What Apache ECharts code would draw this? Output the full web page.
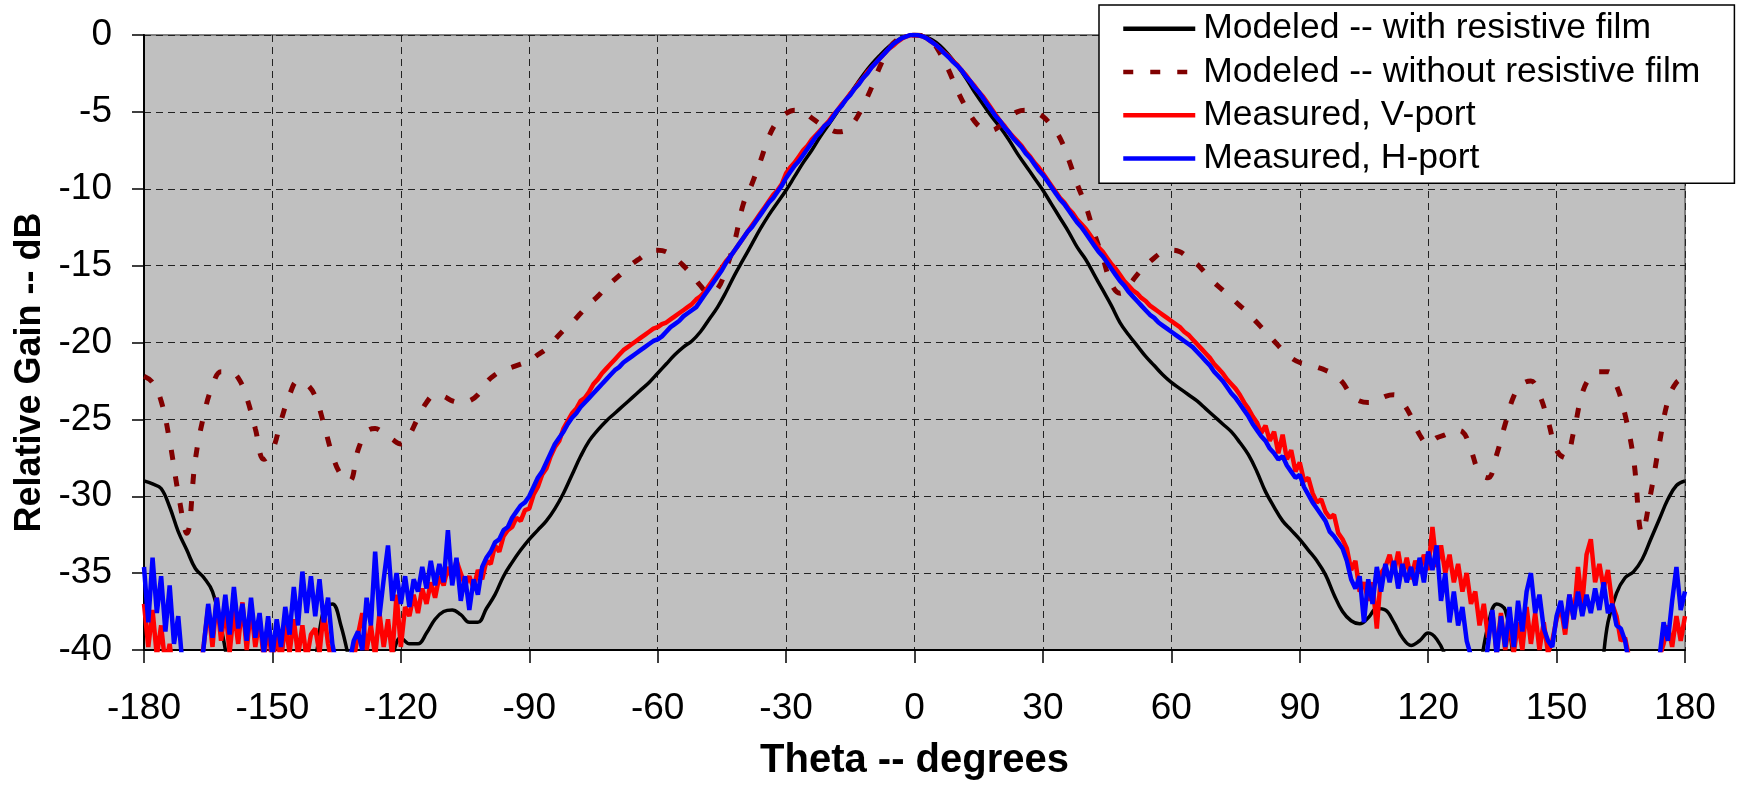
<!DOCTYPE html>
<html>
<head>
<meta charset="utf-8">
<script src="https://cdn.jsdelivr.net/npm/echarts@6/dist/echarts.min.js"></script>
<style>
html,body{margin:0;padding:0;background:#fff;}
#chart{width:1738px;height:786px;}
</style>
</head>
<body>
<div id="chart"></div>
<script>
// ---------- DATA ----------
const seriesNames = ['Modeled -- with resistive film', 'Modeled -- without resistive film', 'Measured, V-port', 'Measured, H-port'];
const xTickValues = [-180, -150, -120, -90, -60, -30, 0, 30, 60, 90, 120, 150, 180];

// Modeled curves sampled every 2 degrees from -180 to 180
const modelStep = 2;
const modeledWithFilm = [
  -29.0, -29.2, -29.5, -30.7, -32.3, -33.5, -34.7, -35.3, -36.2, -38.5,   // -180..-162
  -41.5, -44, -46, -47, -47, -46, -45, -44, -43, -42,                     // -160..-142
  -40.6, -37.4, -37.0, -38.4, -40.8, -44, -46, -45, -43, -40.5,           // -140..-122
  -39.2, -39.6, -39.6, -38.9, -38.0, -37.5, -37.4, -37.7, -38.2, -38.2,   // -120..-102
  -37.3, -36.4, -35.2, -34.3, -33.5, -32.8, -32.2, -31.6, -30.8, -29.8,   // -100..-82
  -28.6, -27.4, -26.4, -25.7, -25.1, -24.6, -24.1, -23.6, -23.1, -22.6,   // -80..-62
  -22.0, -21.4, -20.8, -20.3, -19.9, -19.3, -18.5, -17.7, -16.7, -15.6,   // -60..-42
  -14.6, -13.6, -12.6, -11.7, -10.9, -10.1, -9.2, -8.3, -7.5, -6.6,       // -40..-22
  -5.8, -5.0, -4.2, -3.4, -2.6, -1.9, -1.3, -0.75, -0.35, -0.08,          // -20..-2
  0,                                                                      // 0
  -0.08, -0.3, -0.7, -1.3, -2.0, -2.8, -3.7, -4.5, -5.3, -6.0,            // 2..20
  -6.8, -7.7, -8.5, -9.3, -10.1, -11.0, -11.9, -12.8, -13.8, -14.6,       // 22..40
  -15.6, -16.6, -17.6, -18.7, -19.5, -20.2, -20.9, -21.5, -22.1, -22.6,   // 42..60
  -23.0, -23.4, -23.8, -24.3, -24.8, -25.3, -25.8, -26.5, -27.3, -28.4,   // 62..80
  -29.7, -30.7, -31.6, -32.2, -32.8, -33.5, -34.2, -35.1, -36.4, -37.5,   // 82..100
  -38.1, -38.3, -37.9, -37.3, -37.4, -38.2, -39.2, -39.7, -39.4, -38.9,   // 102..120
  -39.3, -40.4, -42.5, -44.5, -45, -41.5, -38.4, -37.0, -37.4, -40.6,     // 122..140
  -43.5, -46, -47, -47.5, -47, -46, -45, -44, -43, -42,                   // 142..160
  -38.2, -36.3, -35.3, -34.9, -34.1, -32.8, -31.5, -30.2, -29.3, -29.0    // 162..180
];
const modeledWithoutFilm = [
  -22.2, -22.6, -23.8, -26.4, -29.8, -32.4, -27.6, -24.7, -22.8, -21.9,   // -180..-162
  -21.9, -22.3, -23.6, -25.6, -27.6, -27.0, -25.1, -23.4, -22.5, -22.7,   // -160..-142
  -23.5, -25.3, -27.3, -28.6, -29.0, -27.0, -25.8, -25.6, -25.9, -26.3,   // -140..-122
  -26.6, -26.0, -24.9, -23.9, -23.4, -23.5, -23.8, -23.9, -23.8, -23.4,   // -120..-102
  -22.6, -22.1, -21.8, -21.6, -21.4, -21.2, -20.8, -20.4, -19.8, -19.2,   // -100..-82
  -18.7, -18.1, -17.5, -17.0, -16.4, -15.9, -15.4, -14.9, -14.5, -14.1,   // -80..-62
  -14.0, -14.1, -14.5, -15.0, -15.6, -16.3, -16.8, -16.5, -15.2, -13.4,   // -60..-42
  -11.0, -9.7, -8.2, -6.6, -5.6, -5.1, -4.9, -5.0, -5.4, -5.8,            // -40..-22
  -6.1, -6.3, -6.2, -5.6, -4.6, -3.4, -2.0, -0.9, -0.3, -0.03,            // -20..-2
  0,                                                                      // 0
  -0.05, -0.4, -1.2, -2.3, -3.6, -4.7, -5.6, -6.1, -6.2, -5.9,            // 2..20
  -5.4, -5.0, -4.9, -5.0, -5.3, -5.9, -6.7, -8.1, -9.7, -11.1,            // 22..40
  -12.9, -14.5, -16.2, -16.8, -16.3, -15.6, -15.0, -14.5, -14.1, -14.0,   // 42..60
  -14.1, -14.5, -14.9, -15.5, -16.1, -16.6, -17.1, -17.6, -18.1, -18.7,   // 62..80
  -19.3, -19.9, -20.5, -21.0, -21.3, -21.4, -21.6, -21.8, -22.1, -22.6,   // 82..100
  -23.4, -23.8, -23.9, -23.8, -23.5, -23.4, -23.9, -24.8, -26.0, -26.6,   // 102..120
  -26.2, -26.0, -25.7, -25.8, -27.0, -28.5, -28.8, -27.3, -25.3, -23.5,   // 122..140
  -22.7, -22.5, -23.4, -25.1, -27.0, -27.5, -25.8, -23.3, -22.2, -21.9,   // 142..160
  -21.9, -22.8, -24.7, -27.6, -32.4, -29.8, -26.6, -23.8, -22.6, -22.3    // 162..180
];

// Measured curves sampled every 1 degree from -180 to 180
const measStep = 1;
const measuredV = [
  -37.0, -39.8, -37.4, -40.4, -38.4, -41, -39.6, -42, -43, -44,           // -180..-171
  -45, -44, -43, -41.5, -39.6, -37.2, -39.8, -36.6, -39.4, -37.2,         // -170..-161
  -40.2, -37.4, -39.6, -36.9, -40.0, -37.2, -39.8, -38.0, -40.6, -38.4,   // -160..-151
  -41, -38.8, -40.8, -38.2, -40.2, -38.0, -40.4, -38.4, -40.6, -39.0,     // -150..-141
  -38.6, -40.2, -37.4, -39.6, -41, -42, -43, -42, -41, -40.6,             // -140..-131
  -39.0, -37.6, -40.0, -38.4, -40.4, -37.6, -39.8, -38.0, -40.4, -36.4,   // -130..-121
  -39.8, -37.2, -37.8, -36.4, -37.6, -36.0, -37.0, -35.6, -36.6, -35.2,   // -120..-111
  -35.8, -34.6, -35.4, -34.2, -35.0, -35.8, -35.2, -36.0, -34.8, -35.4,   // -110..-101
  -34.2, -34.4, -33.2, -33.6, -32.6, -32.2, -32.0, -31.4, -31.6, -30.9,   // -100..-91
  -30.8, -29.9, -29.4, -28.6, -28.2, -27.4, -26.8, -26.4, -25.6, -25.1,   // -90..-81
  -24.6, -24.3, -23.8, -23.6, -23.2, -22.7, -22.4, -22.0, -21.7, -21.4,   // -80..-71
  -21.1, -20.8, -20.5, -20.3, -20.1, -19.9, -19.7, -19.5, -19.3, -19.1,   // -70..-61
  -19.0, -18.8, -18.7, -18.5, -18.3, -18.1, -17.9, -17.7, -17.5, -17.2,   // -60..-51
  -17.0, -16.7, -16.3, -15.9, -15.5, -15.1, -14.7, -14.4, -14.0, -13.6,   // -50..-41
  -13.2, -12.8, -12.4, -12.0, -11.6, -11.2, -10.8, -10.4, -10.1, -9.7,    // -40..-31
  -9.0, -8.6, -8.3, -7.9, -7.5, -7.2, -6.8, -6.5, -6.2, -5.9,             // -30..-21
  -5.6, -5.2, -4.9, -4.5, -4.2, -3.8, -3.5, -3.1, -2.8, -2.4,             // -20..-11
  -2.1, -1.8, -1.5, -1.2, -0.9, -0.7, -0.45, -0.25, -0.1, -0.02,          // -10..-1
  0,                                                                      // 0
  -0.02, -0.1, -0.25, -0.45, -0.65, -0.9, -1.15, -1.4, -1.7, -1.95,       // 1..10
  -2.3, -2.6, -3.0, -3.3, -3.7, -4.0, -4.4, -4.8, -5.2, -5.6,             // 11..20
  -5.9, -6.3, -6.6, -6.9, -7.2, -7.6, -7.9, -8.3, -8.6, -9.0,             // 21..30
  -9.4, -9.8, -10.2, -10.6, -10.9, -11.3, -11.6, -12.0, -12.3, -12.6,     // 31..40
  -13.0, -13.4, -13.8, -14.1, -14.5, -14.9, -15.2, -15.6, -16.0, -16.3,   // 41..50
  -16.6, -16.8, -17.1, -17.3, -17.6, -17.8, -18.0, -18.2, -18.4, -18.6,   // 51..60
  -18.8, -19.0, -19.3, -19.5, -19.8, -20.1, -20.4, -20.7, -21.0, -21.4,   // 61..70
  -21.7, -22.0, -22.4, -22.7, -23.0, -23.4, -23.9, -24.3, -24.8, -25.2,   // 71..80
  -25.9, -25.4, -26.4, -25.8, -27.2, -26.0, -27.6, -27.0, -28.4, -27.8,   // 81..90
  -29.0, -28.8, -29.8, -30.4, -30.2, -31.0, -31.4, -31.2, -32.4, -32.8,   // 91..100
  -33.4, -34.8, -34.2, -36.2, -35.6, -36.8, -35.6, -38.6, -35.0, -34.6,   // 101..110
  -33.8, -35.0, -33.6, -35.2, -34.0, -35.4, -34.2, -35.0, -33.8, -34.8,   // 111..120
  -32.0, -34.6, -33.2, -35.0, -33.8, -35.6, -34.4, -36.2, -35.0, -37.0,   // 121..130
  -36.2, -38.4, -37.0, -39.2, -37.6, -40.2, -37.6, -40.0, -38.2, -40.2,   // 131..140
  -38.2, -40.0, -37.2, -39.6, -37.6, -40.0, -38.2, -40.2, -39.4, -38.0,   // 141..150
  -37.2, -39.0, -36.4, -38.0, -34.6, -37.0, -33.8, -32.8, -35.6, -34.4,   // 151..160
  -36.0, -34.8, -37.0, -37.8, -39.4, -39.2, -40.6, -41.5, -43, -44,       // 161..170
  -43, -42, -41, -40.5, -39.6, -38.4, -39.8, -37.8, -39.4, -37.8          // 171..180
];
const measuredH = [
  -34.6, -38.2, -34.0, -37.6, -35.2, -38.8, -35.8, -39.6, -37.8, -41,     // -180..-171
  -42, -43, -44, -42.5, -39.6, -37.0, -39.2, -36.6, -38.8, -36.4,         // -170..-161
  -39.0, -35.9, -38.6, -37.0, -39.4, -36.6, -39.2, -37.6, -40.2, -37.8,   // -160..-151
  -40.4, -38.0, -39.8, -37.2, -39.0, -35.9, -38.4, -34.9, -37.6, -35.2,   // -150..-141
  -37.8, -35.4, -38.2, -36.6, -39.6, -41, -42, -41.5, -40.8, -39.4,       // -140..-131
  -38.8, -40.0, -36.6, -38.4, -33.6, -37.8, -35.4, -33.2, -36.8, -35.0,   // -130..-121
  -37.0, -35.2, -37.2, -35.4, -36.2, -34.6, -36.0, -34.2, -35.8, -34.4,   // -120..-111
  -35.6, -32.2, -35.8, -34.0, -36.8, -35.2, -37.4, -35.4, -36.4, -34.6,   // -110..-101
  -34.0, -33.6, -33.0, -32.8, -32.2, -32.0, -31.4, -31.0, -30.6, -30.4,   // -100..-91
  -30.0, -29.4, -28.8, -28.4, -27.8, -27.2, -26.6, -26.2, -25.8, -25.3,   // -90..-81
  -24.9, -24.6, -24.2, -23.9, -23.6, -23.3, -23.0, -22.7, -22.4, -22.1,   // -80..-71
  -21.8, -21.6, -21.3, -21.1, -20.9, -20.7, -20.5, -20.3, -20.1, -19.9,   // -70..-61
  -19.8, -19.6, -19.3, -19.0, -18.8, -18.6, -18.3, -18.1, -17.9, -17.7,   // -60..-51
  -17.3, -16.9, -16.5, -16.1, -15.7, -15.3, -14.8, -14.4, -14.0, -13.6,   // -50..-41
  -13.2, -12.8, -12.5, -12.1, -11.7, -11.3, -10.9, -10.6, -10.2, -9.8,    // -40..-31
  -9.3, -8.9, -8.5, -8.2, -7.8, -7.4, -7.0, -6.6, -6.3, -5.9,             // -30..-21
  -5.7, -5.3, -4.9, -4.6, -4.2, -3.9, -3.5, -3.2, -2.8, -2.5,             // -20..-11
  -2.1, -1.8, -1.5, -1.2, -0.9, -0.6, -0.4, -0.2, -0.1, 0,                // -10..-1
  0,                                                                      // 0
  -0.02, -0.1, -0.25, -0.45, -0.65, -0.9, -1.2, -1.45, -1.75, -2.0,       // 1..10
  -2.3, -2.7, -3.0, -3.4, -3.7, -4.1, -4.5, -4.9, -5.3, -5.6,             // 11..20
  -6.0, -6.3, -6.7, -7.0, -7.3, -7.7, -8.0, -8.4, -8.8, -9.1,             // 21..30
  -9.5, -9.9, -10.3, -10.7, -11.0, -11.4, -11.8, -12.2, -12.5, -12.9,     // 31..40
  -13.3, -13.7, -14.1, -14.4, -14.8, -15.2, -15.6, -16.0, -16.3, -16.7,   // 41..50
  -17.0, -17.3, -17.6, -17.9, -18.2, -18.4, -18.7, -18.9, -19.1, -19.3,   // 51..60
  -19.5, -19.7, -19.9, -20.1, -20.3, -20.6, -20.9, -21.2, -21.5, -21.9,   // 61..70
  -22.2, -22.5, -22.9, -23.3, -23.6, -24.0, -24.4, -24.8, -25.3, -25.7,   // 71..80
  -26.1, -26.4, -26.9, -27.2, -27.6, -27.4, -28.0, -28.4, -28.8, -28.6,   // 81..90
  -29.4, -29.9, -30.4, -30.8, -31.2, -31.6, -32.3, -32.6, -33.0, -33.4,   // 91..100
  -34.2, -35.4, -36.0, -35.2, -38.2, -35.4, -37.0, -34.6, -36.2, -34.4,   // 101..110
  -35.6, -34.2, -36.0, -34.4, -35.6, -34.6, -35.8, -34.0, -35.6, -33.6,   // 111..120
  -34.8, -33.2, -36.8, -35.0, -38.2, -36.2, -38.4, -37.2, -39.4, -40.4,   // 121..130
  -40.6, -41, -42, -39.6, -37.4, -40.4, -37.8, -39.8, -37.2, -39.8,       // 131..140
  -36.8, -38.8, -36.2, -35.0, -37.6, -36.4, -38.6, -39.4, -39.8, -37.8,   // 141..150
  -36.8, -38.6, -36.4, -38.0, -36.2, -37.8, -36.4, -37.6, -36.0, -37.4,   // 151..160
  -35.6, -37.6, -37.0, -38.4, -38.6, -39.4, -41, -42, -43, -44,           // 161..170
  -43, -42, -41, -40.6, -38.2, -39.4, -36.8, -34.6, -37.4, -36.2          // 171..180
];

// ---------- BUILD ----------
function pairs(values, step) {
  return values.map((v, i) => [-180 + i * step, v]);
}

const font = '"Liberation Sans", Arial, sans-serif';
const chart = echarts.init(document.getElementById('chart'), null, {renderer: 'canvas'});

chart.setOption({
  animation: false,
  backgroundColor: '#ffffff',
  textStyle: {fontFamily: font, color: '#000'},
  grid: {
    left: 144, right: 53, top: 35, bottom: 129,
    show: true, backgroundColor: '#C0C0C0', borderColor: '#808080', borderWidth: 2
  },
  legend: {
    orient: 'vertical',
    left: 1099, top: 5,
    data: seriesNames,
    backgroundColor: '#ffffff',
    borderColor: '#000000', borderWidth: 1.5,
    padding: [2, 34, 3, 22],
    itemWidth: 72, itemHeight: 14, itemGap: 0,
    itemStyle: {opacity: 0},
    lineStyle: {width: 4.5},
    textStyle: {fontFamily: font, fontSize: 35.5, color: '#000', lineHeight: 43.3, padding: [0, 0, 0, 3]},
    selectedMode: false
  },
  xAxis: {
    type: 'value', min: -180, max: 180, interval: 30,
    name: 'Theta -- degrees', nameLocation: 'middle', nameGap: 91,
    nameTextStyle: {fontFamily: font, fontSize: 40, fontWeight: 'bold', color: '#000'},
    axisLine: {show: true, onZero: false, lineStyle: {color: '#000', width: 2}},
    axisTick: {show: true, inside: false, length: 13, lineStyle: {color: '#000', width: 1.5}},
    axisLabel: {fontFamily: font, fontSize: 37, color: '#000', margin: 40,
      formatter: v => xTickValues.includes(v) ? String(v) : ''},
    splitLine: {show: true, lineStyle: {color: '#222', width: 1, type: [7, 5]}}
  },
  yAxis: {
    type: 'value', min: -40, max: 0, interval: 5,
    name: 'Relative Gain -- dB', nameLocation: 'middle', nameGap: 96,
    nameTextStyle: {fontFamily: font, fontSize: 36, fontWeight: 'bold', color: '#000', padding: [0, 60, 0, 0]},
    axisLine: {show: true, onZero: false, lineStyle: {color: '#000', width: 2}},
    axisTick: {show: true, inside: false, length: 12, lineStyle: {color: '#000', width: 1.5}},
    axisLabel: {fontFamily: font, fontSize: 37, color: '#000', margin: 32},
    splitLine: {show: true, lineStyle: {color: '#222', width: 1, type: [7, 5]}}
  },
  series: [
    {
      name: seriesNames[0], type: 'line', data: pairs(modeledWithFilm, modelStep),
      smooth: 0.4, symbol: 'none', clip: true, z: 2,
      lineStyle: {color: '#000000', width: 3.5}, itemStyle: {color: '#000000'}
    },
    {
      name: seriesNames[1], type: 'line', data: pairs(modeledWithoutFilm, modelStep),
      smooth: 0.4, symbol: 'none', clip: true, z: 3,
      lineStyle: {color: '#800000', width: 5, type: [10, 17], cap: 'butt'}, itemStyle: {color: '#800000'}
    },
    {
      name: seriesNames[2], type: 'line', data: pairs(measuredV, measStep),
      symbol: 'none', clip: true, z: 4,
      lineStyle: {color: '#FF0000', width: 4.5}, itemStyle: {color: '#FF0000'}
    },
    {
      name: seriesNames[3], type: 'line', data: pairs(measuredH, measStep),
      symbol: 'none', clip: true, z: 5,
      lineStyle: {color: '#0000FF', width: 4.5}, itemStyle: {color: '#0000FF'}
    }
  ]
});
</script>
</body>
</html>
